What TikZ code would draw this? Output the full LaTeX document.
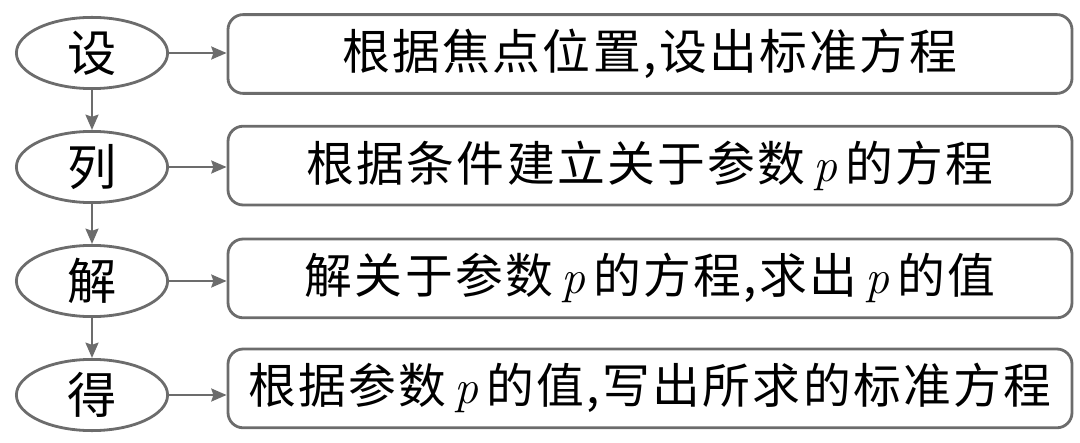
\documentclass[tikz,border=0pt]{standalone}
\usepackage{fontspec}
\newfontfamily\cjk{Noto Sans CJK SC}[LetterSpace=5]
\usepackage{tikz}
\usetikzlibrary{positioning,arrows.meta,shapes.geometric}
\definecolor{linegray}{RGB}{108,108,108}
\newcommand\pvar{{\rmfamily\itshape p}}

\begin{document}
\begin{tikzpicture}[
  stage/.style={ellipse, draw=linegray, line width=2pt, minimum width=3.78cm, minimum height=1.78cm, inner sep=0pt, font=\cjk\fontsize{35}{40}\selectfont},
  detail/.style={rectangle, rounded corners=0.38cm, draw=linegray, line width=2pt, minimum width=21.1cm, minimum height=1.97cm, align=center, font=\cjk\fontsize{34}{40}\selectfont},
  flow/.style={-{Stealth[length=0.38cm, width=0.32cm, inset=0.05cm]}, draw=linegray, fill=linegray, line width=2pt}
]
\useasboundingbox (0,0) rectangle (27,11.05);

% Stages
\node[stage] (she) at (2.3, 9.725) {设};
\node[stage] (lie) at (2.3, 6.875) {列};
\node[stage] (jie) at (2.3, 4.025) {解};
\node[stage] (de)  at (2.3, 1.175) {得};

% Details
\node[detail] (d1) at (16.25, 9.7)  {根据焦点位置,设出标准方程};
\node[detail] (d2) at (16.25, 6.91) {根据条件建立关于参数\,\pvar\,的方程};
\node[detail] (d3) at (16.25, 4.09) {解关于参数\,\pvar\,的方程,求出\,\pvar\,的值};
\node[detail] (d4) at (16.25, 1.34) {根据参数\,\pvar\,的值,写出所求的标准方程};

\draw[flow] (she) -- (lie);
\draw[flow] (lie) -- (jie);
\draw[flow] (jie) -- (de);

\draw[flow] (she.east) -- (she.east -| d1.west);
\draw[flow] (lie.east) -- (lie.east -| d2.west);
\draw[flow] (jie.east) -- (jie.east -| d3.west);
\draw[flow] (de.east)  -- (de.east -| d4.west);

\end{tikzpicture}
\end{document}
